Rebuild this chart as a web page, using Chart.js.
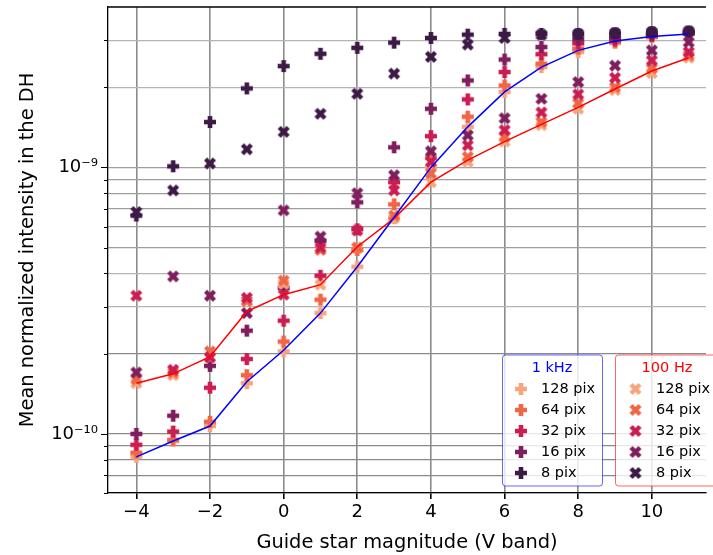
<!DOCTYPE html>
<html lang="en">
<head>
    <meta charset="UTF-8">
    <title>Intensity vs guide star magnitude</title>
    <script src="https://cdn.jsdelivr.net/npm/chart.js"></script>
    <style>
        html, body { margin: 0; padding: 0; background: #fff; }
        #wrap { width: 713px; height: 555px; }
    </style>
</head>
<body>
    <div id="wrap"><canvas id="dhChart" width="713" height="555"></canvas></div>

    <script>
// guide star magnitudes (V band)
const magnitudes = [-4, -3, -2, -1, 0, 1, 2, 3, 4, 5, 6, 7, 8, 9, 10, 11];

// mean normalized intensity, in units of 1e-10
// 1 kHz loop
const khz128 = [0.82, 0.94, 1.07, 1.55, 2.04, 2.84, 4.24, 6.45, 10.0, 14.2, 19.2, 23.8, 27.1, 29.3, 30.8, 31.7];
const khz64  = [0.85, 0.95, 1.11, 1.66, 2.22, 3.19, 4.9, 7.27, 10.9, 15.5, 20.3, 24.5, 27.9, 29.6, 31.0, 31.9];
const khz32  = [0.91, 1.02, 1.49, 1.91, 2.66, 3.92, 5.86, 8.8, 13.1, 18.0, 22.8, 26.6, 29.2, 30.0, 31.2, 32.0];
const khz16  = [1.00, 1.17, 1.80, 2.44, 3.53, 5.3, 7.4, 11.9, 16.6, 21.2, 25.4, 28.3, 30.2, 30.7, 31.5, 32.2];
const khz8   = [6.6, 10.1, 14.8, 19.8, 24.0, 26.7, 28.1, 29.4, 30.6, 31.5, 31.7, 31.7, 31.7, 31.9, 32.2, 32.4];
// 100 Hz loop
const hz128 = [1.55, 1.66, 1.93, 3.15, 3.65, 3.63, 5.0, 6.45, 8.8, 10.5, 12.5, 14.4, 16.6, 19.5, 22.6, 25.8];
const hz64  = [1.60, 1.70, 2.04, 3.15, 3.76, 4.9, 5.0, 6.6, 9.5, 10.95, 13.0, 14.8, 17.4, 20.0, 23.5, 26.3];
const hz32  = [3.3, 1.74, 1.94, 3.24, 3.33, 5.0, 5.8, 8.2, 10.5, 12.1, 13.8, 16.1, 18.8, 21.7, 25.2, 27.1];
const hz16  = [1.70, 3.9, 3.3, 2.84, 6.9, 5.5, 8.0, 9.35, 11.5, 13.2, 15.3, 18.1, 20.9, 24.1, 27.5, 29.5];
const hz8   = [6.8, 8.2, 10.35, 11.7, 13.6, 15.9, 18.9, 22.5, 26.0, 28.9, 30.6, 31.5, 31.7, 31.9, 32.2, 32.4];
// best-case curves
const khzCurve = [0.82, 0.94, 1.07, 1.57, 2.06, 2.84, 4.24, 6.5, 10.0, 14.2, 19.2, 23.8, 27.5, 29.8, 31.0, 31.7];
const hzCurve  = [1.55, 1.68, 1.95, 2.88, 3.33, 3.63, 5.04, 6.44, 8.8, 10.65, 12.5, 14.5, 16.8, 19.7, 23.0, 25.8];

const pixLabels = ['128 pix', '64 pix', '32 pix', '16 pix', '8 pix'];
const xTicks = [-4, -2, 0, 2, 4, 6, 8, 10];
const yTicks = [6e-11, 7e-11, 8e-11, 9e-11, 1e-10, 2e-10, 3e-10, 4e-10, 5e-10, 6e-10, 7e-10, 8e-10, 9e-10, 1e-9, 2e-9, 3e-9];

const pixColors = ['#f6a67e', '#ef6646', '#cb1d52', '#7e1e5c', '#3d1a46'];
const FONT = "'DejaVu Sans', sans-serif";

// filled plus ("P") and filled x ("X") markers
function makeMarker(color, rotate) {
    const c = document.createElement('canvas');
    c.width = 14; c.height = 14;
    const g = c.getContext('2d');
    g.translate(7, 7);
    let L = 6, w = 2.3;
    if (rotate) { g.rotate(Math.PI / 4); L = 6.3; w = 2.2; }
    g.fillStyle = color;
    g.beginPath();
    g.moveTo(-w, -L); g.lineTo(w, -L); g.lineTo(w, -w); g.lineTo(L, -w);
    g.lineTo(L, w); g.lineTo(w, w); g.lineTo(w, L); g.lineTo(-w, L);
    g.lineTo(-w, w); g.lineTo(-L, w); g.lineTo(-L, -w); g.lineTo(-w, -w);
    g.closePath();
    g.fill();
    return c;
}

const plusMarks = pixColors.map(c => makeMarker(c, false));
const xMarks = pixColors.map(c => makeMarker(c, true));

function toPoints(vals) {
    return magnitudes.map((m, i) => ({ x: m, y: vals[i] * 1e-10 }));
}

const khzSeries = [khz128, khz64, khz32, khz16, khz8];
const hzSeries = [hz128, hz64, hz32, hz16, hz8];

const datasets = [];
khzSeries.forEach((vals, i) => {
    datasets.push({
        label: '1 kHz ' + pixLabels[i],
        data: toPoints(vals),
        pointStyle: plusMarks[i],
        showLine: false,
        order: 10 - i,
    });
});
hzSeries.forEach((vals, i) => {
    datasets.push({
        label: '100 Hz ' + pixLabels[i],
        data: toPoints(vals),
        pointStyle: xMarks[i],
        showLine: false,
        order: 5 - i,
    });
});
datasets.push({
    label: '1 kHz curve', data: toPoints(khzCurve), showLine: true,
    borderColor: '#0000ff', borderWidth: 1.5, pointRadius: 0, tension: 0, order: 0,
});
datasets.push({
    label: '100 Hz curve', data: toPoints(hzCurve), showLine: true,
    borderColor: '#ff0000', borderWidth: 1.5, pointRadius: 0, tension: 0, order: 0,
});

function yGridColor(v) {
    if (v <= 2.01e-10) return '#8a8a8a';
    if (v >= 4.9e-10 && v <= 1.01e-9) return '#9e9e9e';
    return '#b4b4b4';
}

// frame, minor y ticks and the two legend boxes
const extras = {
    id: 'extras',
    afterDraw(chart) {
        const ctx = chart.ctx;
        const area = chart.chartArea;
        const ys = chart.scales.y;
        ctx.save();
        ctx.strokeStyle = '#000';
        ctx.lineWidth = 1.3;
        ctx.beginPath();
        ctx.moveTo(area.left, area.top);
        ctx.lineTo(area.right, area.top);
        ctx.stroke();
        ctx.lineWidth = 1;
        yTicks.forEach(v => {
            const py = Math.round(ys.getPixelForValue(v)) + 0.5;
            const major = (v === 1e-9 || v === 1e-10);
            const len = major ? 7 : 4;
            ctx.beginPath();
            ctx.moveTo(area.left - len, py);
            ctx.lineTo(area.left, py);
            ctx.stroke();
        });

        function box(x, title, color, border, marks, markX, textX, titleX) {
            const y0 = 355, h = 131, w = (x > 600) ? 120 : 100;
            ctx.beginPath();
            ctx.roundRect(x, y0, w, h, 3);
            ctx.fillStyle = 'rgba(255,255,255,0.8)';
            ctx.fill();
            ctx.strokeStyle = border;
            ctx.lineWidth = 1;
            ctx.stroke();
            ctx.font = '14.5px ' + FONT;
            ctx.textBaseline = 'middle';
            ctx.textAlign = 'center';
            ctx.fillStyle = color;
            ctx.fillText(title, titleX, 368);
            ctx.textAlign = 'left';
            ctx.fillStyle = '#000';
            pixLabels.forEach((lab, i) => {
                const ry = 389 + i * 21;
                const m = marks[i];
                ctx.drawImage(m, markX - m.width / 2, ry - m.height / 2);
                ctx.fillText(lab, textX, ry);
            });
        }
        box(502.5, '1 kHz', '#0000ff', 'rgba(0,0,255,0.6)', plusMarks, 521, 541, 552);
        box(615.5, '100 Hz', '#ff0000', 'rgba(255,0,0,0.6)', xMarks, 635.5, 656, 667);
        ctx.restore();
    }
};

new Chart(document.getElementById('dhChart').getContext('2d'), {
    type: 'scatter',
    data: { datasets: datasets },
    options: {
        responsive: false,
        animation: false,
        layout: { padding: { top: 6, right: 0, left: 0, bottom: 0 } },
        plugins: {
            legend: { display: false },
            tooltip: { enabled: false },
        },
        elements: { point: { radius: 6 } },
        scales: {
            x: {
                type: 'linear',
                min: -4.77,
                max: 11.47,
                afterBuildTicks: s => { s.ticks = xTicks.map(v => ({ value: v })); },
                afterFit: s => { s.height = 62; s.paddingLeft = 0; s.paddingRight = 0; },
                ticks: {
                    color: '#000',
                    padding: 3,
                    font: { family: FONT, size: 18 },
                    callback: v => String(v).replace('-', '\u2212'),
                },
                grid: {
                    color: '#8c8c8c',
                    lineWidth: 1.6,
                    tickColor: '#000',
                    tickLength: 6,
                },
                border: { display: true, color: '#000', width: 1.3 },
                title: {
                    display: true,
                    text: 'Guide star magnitude (V band)',
                    color: '#000',
                    font: { family: FONT, size: 19.4 },
                    padding: { top: 2, bottom: 0 },
                },
            },
            y: {
                type: 'logarithmic',
                min: 6.0e-11,
                max: 4.0e-9,
                afterBuildTicks: s => { s.ticks = yTicks.map(v => ({ value: v })); },
                afterFit: s => { s.width = 108; s.paddingTop = 0; s.paddingBottom = 0; },
                ticks: {
                    color: '#000',
                    autoSkip: false,
                    padding: 10,
                    font: { family: FONT, size: 18 },
                    callback: v => (v === 1e-9 ? '10\u207b\u2079' : (v === 1e-10 ? '10\u207b\u00b9\u2070' : '')),
                },
                grid: {
                    color: c => yGridColor(c.tick ? c.tick.value : 0),
                    lineWidth: 1.3,
                    drawTicks: false,
                },
                border: { display: true, color: '#000', width: 1.3 },
                title: {
                    display: true,
                    text: 'Mean normalized intensity in the DH',
                    color: '#000',
                    font: { family: FONT, size: 19.4 },
                    padding: { top: 16, bottom: 4 },
                },
            },
        },
    },
    plugins: [extras],
});
    </script>
</body>
</html>
